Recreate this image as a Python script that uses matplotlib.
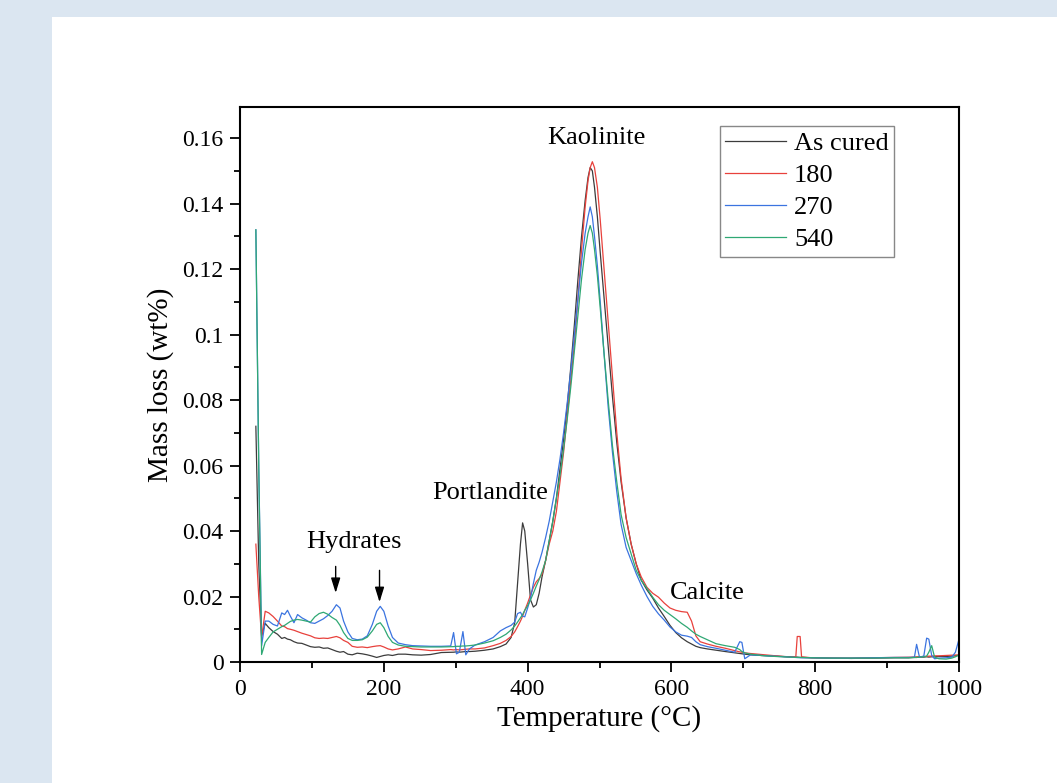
import numpy as np
import matplotlib
matplotlib.use("Agg")
import matplotlib.pyplot as plt
from matplotlib.ticker import MultipleLocator, FuncFormatter
from matplotlib.patches import Rectangle

plt.rcParams['font.family'] = ['Liberation Serif', 'DejaVu Serif']

# temperature grid (deg C) shared by all four curves
temp = [22, 26, 30, 35, 40, 46, 52, 58, 62, 66, 70, 75, 80, 86, 92, 98, 104, 110, 116, 122,
        128, 134, 139, 144, 150, 156, 163, 170, 177, 184, 190, 195, 200, 206, 212, 220, 230, 240, 252, 265,
        280, 293, 297, 301, 305, 310, 314, 319, 327, 340, 352, 362, 370, 377, 382, 386, 390, 393, 396, 400,
        404, 408, 412, 416, 420, 425, 430, 435, 440, 445, 450, 455, 460, 465, 470, 475, 480, 484, 487, 490,
        493, 497, 501, 506, 512, 518, 524, 530, 537, 544, 551, 558, 566, 574, 582, 590, 598, 606, 614, 622,
        628, 634, 640, 650, 662, 675, 688, 695, 698, 702, 710, 725, 745, 765, 773, 775, 779, 781, 795, 820,
        850, 880, 910, 930, 938, 941, 945, 951, 955, 958, 962, 966, 972, 982, 990, 995, 1000]

as_cured = [0.072, 0.030, 0.008, 0.0118, 0.0105, 0.0093, 0.0085, 0.0072, 0.0075, 0.0070, 0.0068, 0.0062, 0.0058, 0.0057, 0.0052, 0.0047, 0.0045, 0.0046, 0.0042, 0.0043,
            0.0038, 0.0033, 0.0030, 0.0032, 0.0024, 0.0022, 0.0027, 0.0025, 0.0022, 0.0018, 0.0014, 0.0017, 0.0020, 0.0022, 0.0020, 0.0024, 0.0024, 0.0022, 0.0021, 0.0023,
            0.0029, 0.0030, 0.0030, 0.0031, 0.0030, 0.0031, 0.0032, 0.0032, 0.0033, 0.0036, 0.0040, 0.0047, 0.0055, 0.0075, 0.012, 0.024, 0.036, 0.0425, 0.040, 0.030,
            0.019, 0.0168, 0.0175, 0.021, 0.026, 0.031, 0.037, 0.043, 0.050, 0.059, 0.068, 0.078, 0.090, 0.103, 0.117, 0.130, 0.141, 0.148, 0.151, 0.150,
            0.145, 0.136, 0.125, 0.112, 0.096, 0.081, 0.067, 0.055, 0.044, 0.036, 0.030, 0.025, 0.022, 0.0195, 0.0165, 0.0139, 0.0112, 0.0090, 0.0074, 0.0062,
            0.0055, 0.0048, 0.0044, 0.0040, 0.0036, 0.0032, 0.0028, 0.0026, 0.0025, 0.0024, 0.0022, 0.0020, 0.0018, 0.0016, 0.0015, 0.0015, 0.0014, 0.0014, 0.0013, 0.0012,
            0.0011, 0.0012, 0.0013, 0.0013, 0.0014, 0.0014, 0.0015, 0.0015, 0.0016, 0.0015, 0.0016, 0.0016, 0.0017, 0.0017, 0.0018, 0.0019, 0.0020]

d180 = [0.036, 0.020, 0.0075, 0.0155, 0.0150, 0.0139, 0.0125, 0.0110, 0.0108, 0.0102, 0.0100, 0.0097, 0.0093, 0.0088, 0.0084, 0.0080, 0.0074, 0.0072, 0.0073, 0.0072,
        0.0075, 0.0078, 0.0074, 0.0066, 0.0060, 0.0048, 0.0045, 0.0046, 0.0044, 0.0047, 0.0049, 0.0050, 0.0046, 0.0040, 0.0037, 0.0040, 0.0046, 0.0040, 0.0038, 0.0035,
        0.0036, 0.0038, 0.0037, 0.0038, 0.0037, 0.0038, 0.0039, 0.0040, 0.0040, 0.0043, 0.0050, 0.0057, 0.0066, 0.0078, 0.0092, 0.0108, 0.0125, 0.0140, 0.0158, 0.0180,
        0.0205, 0.0228, 0.0245, 0.0255, 0.0268, 0.031, 0.036, 0.040, 0.046, 0.055, 0.064, 0.075, 0.086, 0.097, 0.111, 0.126, 0.139, 0.147, 0.151, 0.1528,
        0.151, 0.145, 0.135, 0.121, 0.104, 0.087, 0.070, 0.056, 0.044, 0.036, 0.030, 0.0260, 0.0228, 0.021, 0.0198, 0.018, 0.0165, 0.0158, 0.0154, 0.0152,
        0.0125, 0.0080, 0.0062, 0.0055, 0.0048, 0.0042, 0.0035, 0.0031, 0.0030, 0.0028, 0.0026, 0.0023, 0.0019, 0.0015, 0.0016, 0.0078, 0.0078, 0.0016, 0.0013, 0.0012,
        0.0012, 0.0013, 0.0014, 0.0015, 0.0015, 0.0016, 0.0016, 0.0017, 0.0017, 0.0018, 0.0018, 0.0019, 0.0019, 0.0020, 0.0021, 0.0021, 0.0022]

d270 = [0.132, 0.060, 0.005, 0.0125, 0.0125, 0.0115, 0.0110, 0.0150, 0.0145, 0.0158, 0.0140, 0.0120, 0.0145, 0.0135, 0.0128, 0.0120, 0.0118, 0.0125, 0.0132, 0.0142,
        0.0155, 0.0175, 0.0165, 0.0125, 0.0092, 0.0072, 0.0068, 0.0070, 0.0080, 0.0115, 0.0155, 0.0170, 0.0155, 0.0110, 0.0075, 0.0058, 0.0053, 0.0050, 0.0049, 0.0048,
        0.0048, 0.0049, 0.0090, 0.0025, 0.0030, 0.0093, 0.0022, 0.0040, 0.0052, 0.0062, 0.0075, 0.0095, 0.0105, 0.0112, 0.0122, 0.0148, 0.0152, 0.0140, 0.0138, 0.0165,
        0.0195, 0.0240, 0.0280, 0.0305, 0.0335, 0.038, 0.043, 0.049, 0.055, 0.062, 0.070, 0.079, 0.089, 0.100, 0.111, 0.122, 0.131, 0.136, 0.139, 0.136,
        0.130, 0.121, 0.110, 0.095, 0.078, 0.064, 0.052, 0.042, 0.035, 0.031, 0.027, 0.0235, 0.020, 0.017, 0.0147, 0.0128, 0.0107, 0.0092, 0.0082, 0.0079,
        0.0075, 0.0062, 0.0053, 0.0047, 0.0042, 0.0036, 0.0030, 0.0062, 0.0060, 0.0010, 0.0022, 0.0020, 0.0017, 0.0015, 0.0014, 0.0014, 0.0013, 0.0013, 0.0013, 0.0012,
        0.0012, 0.0013, 0.0014, 0.0014, 0.0015, 0.0054, 0.0015, 0.0018, 0.0073, 0.0070, 0.0020, 0.0010, 0.0012, 0.0013, 0.0015, 0.0030, 0.0070]

d540 = [0.132, 0.060, 0.0023, 0.0060, 0.0075, 0.0092, 0.0100, 0.0108, 0.0112, 0.0118, 0.0124, 0.0128, 0.0130, 0.0128, 0.0125, 0.0122, 0.0138, 0.0148, 0.0152, 0.0146,
        0.0136, 0.0128, 0.0112, 0.0090, 0.0072, 0.0066, 0.0066, 0.0068, 0.0076, 0.0095, 0.0115, 0.0120, 0.0105, 0.0078, 0.0060, 0.0052, 0.0048, 0.0047, 0.0046, 0.0046,
        0.0046, 0.0047, 0.0047, 0.0048, 0.0048, 0.0049, 0.0049, 0.0050, 0.0052, 0.0058, 0.0065, 0.0075, 0.0085, 0.0098, 0.0110, 0.0122, 0.0135, 0.0145, 0.0158, 0.0172,
        0.0190, 0.0210, 0.0232, 0.0252, 0.0275, 0.031, 0.037, 0.043, 0.050, 0.057, 0.065, 0.074, 0.084, 0.095, 0.106, 0.117, 0.126, 0.131, 0.1333, 0.131,
        0.126, 0.118, 0.108, 0.095, 0.080, 0.066, 0.055, 0.045, 0.038, 0.033, 0.028, 0.025, 0.0225, 0.0198, 0.0175, 0.0158, 0.0145, 0.0132, 0.0118, 0.0106,
        0.0095, 0.0085, 0.0078, 0.0068, 0.0056, 0.0050, 0.0045, 0.0038, 0.0032, 0.0028, 0.0024, 0.0020, 0.0017, 0.0015, 0.0014, 0.0014, 0.0014, 0.0014, 0.0013, 0.0012,
        0.0012, 0.0012, 0.0013, 0.0013, 0.0014, 0.0014, 0.0015, 0.0016, 0.0018, 0.0030, 0.0050, 0.0015, 0.0010, 0.0009, 0.0012, 0.0016, 0.0022]

series = [('As cured', as_cured, '#3c3c3c'),
          ('180', d180, '#e8413c'),
          ('270', d270, '#3b74e0'),
          ('540', d540, '#2fa874')]

fig = plt.figure(figsize=(10.57, 7.83), dpi=100)
fig.patch.set_facecolor('#dbe6f1')
fig.add_artist(Rectangle((52 / 1057, 0), 1, 1 - 17 / 783, transform=fig.transFigure,
                         facecolor='white', edgecolor='none', zorder=0))
ax = fig.add_axes([0.2271, 0.1545, 0.6802, 0.7088])

for name, vals, col in series:
    ax.plot(temp, vals, color=col, lw=0.9, label=name)

ax.set_xlim(0, 1000)
ax.set_ylim(0, 0.1695)
ax.xaxis.set_major_locator(MultipleLocator(200))
ax.xaxis.set_minor_locator(MultipleLocator(100))
ax.yaxis.set_major_locator(MultipleLocator(0.02))
ax.yaxis.set_minor_locator(MultipleLocator(0.01))
ax.yaxis.set_major_formatter(FuncFormatter(lambda v, p: '%g' % round(v, 3)))
ax.tick_params(which='major', direction='out', length=7, width=1.3, labelsize=17, pad=5)
ax.tick_params(which='minor', direction='out', length=4, width=1.3)
for s in ax.spines.values():
    s.set_linewidth(1.5)

ax.set_xlabel('Temperature (°C)', fontsize=21, labelpad=4)
ax.set_ylabel('Mass loss (wt%)', fontsize=21, labelpad=6)

ax.text(496, 0.160, 'Kaolinite', fontsize=19, ha='center', va='center')
ax.text(348, 0.0517, 'Portlandite', fontsize=19, ha='center', va='center')
ax.text(158, 0.0367, 'Hydrates', fontsize=19, ha='center', va='center')
ax.text(650, 0.0211, 'Calcite', fontsize=19, ha='center', va='center')

arrow = dict(arrowstyle='-|>,head_width=0.28,head_length=0.9', color='black', lw=1,
             shrinkA=0, shrinkB=0)
ax.annotate('', xy=(133, 0.0211), xytext=(133, 0.0292), arrowprops=arrow)
ax.annotate('', xy=(194, 0.0183), xytext=(194, 0.0280), arrowprops=arrow)

leg = ax.legend(loc='upper right', bbox_to_anchor=(0.9096, 0.9658), borderaxespad=0,
                fontsize=19, handlelength=2.3, handletextpad=0.3, labelspacing=0.33,
                borderpad=0.2, fancybox=False, framealpha=1)
leg.get_frame().set_edgecolor('#888888')
leg.get_frame().set_linewidth(1)

fig.savefig('out.png', dpi=100, facecolor=fig.get_facecolor())
